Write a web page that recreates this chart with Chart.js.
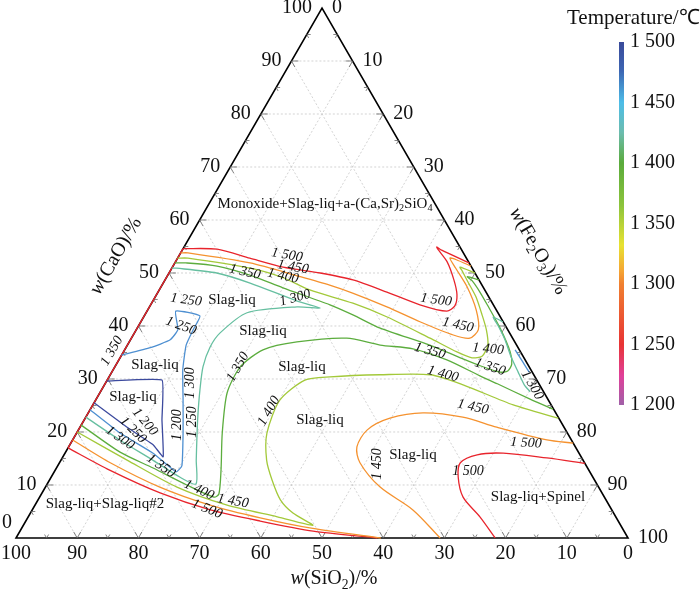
<!DOCTYPE html>
<html>
<head>
<meta charset="utf-8">
<script src="https://cdn.jsdelivr.net/npm/chart.js@4.4.0/dist/chart.umd.min.js"></script>
<style>
  html, body { margin: 0; padding: 0; background: #fff; }
  #wrap { width: 700px; height: 593px; }
</style>
</head>
<body>
<div id="wrap"><canvas id="chart"></canvas></div>
<script>
// --- Dados ---
// Eixos em % (w): CaO no vértice de cima, SiO2 à esquerda, Fe2O3 à direita
const axisTicks = [0, 10, 20, 30, 40, 50, 60, 70, 80, 90, 100];
const gridSteps = [10, 20, 30, 40, 50, 60, 70, 80, 90];
const tempTicks = [1500, 1450, 1400, 1350, 1300, 1250, 1200];

// Isotermas: pares [CaO, Fe2O3] em %
const iso1500Band  = [[0,59.0],[1.3,47.9],[3.2,38.3],[5.3,29.1],[8.5,19.3],[12.8,8.9],[17.0,0]];
const iso1500Edge  = [[17.0,0],[54.6,0]];
const iso1500Top   = [[54.6,0],[54.5,5.6],[52.8,11.8],[51.1,18.1],[50.0,24.7],[48.7,30.7],[46.4,37.4],[44.0,44.0],[42.8,49.0],[43.8,49.8],[45.9,49.1],[48.7,47.2],[52.1,44.4],[54.3,41.9],[54.9,41.3],[54.3,42.4],[51.9,48.1]];
const iso1500Right = [[0,78.3],[4.0,73.8],[7.7,69.2],[11.5,66.5],[14.2,65.5],[15.7,67.5],[16.0,71.6],[15.1,79.2],[14.1,85.9]];

const iso1450Band  = [[18.5,0],[14.2,8.3],[9.6,18.7],[6.2,28.6],[3.8,38.0],[1.8,47.6],[0,59.6]];
const iso1450Top   = [[53.8,0],[53.8,1.2],[51.9,12.3],[49.3,21.8],[47.7,27.4],[46.2,31.9],[43.6,38.8],[40.8,45.6],[38.3,52.3],[37.7,55.3],[39.3,55.9],[43.0,53.7],[47.4,50.0],[50.9,46.4],[52.8,44.5],[52.5,45.7],[51.3,48.7]];
const iso1450Right = [[0,69.3],[5.3,62.2],[9.6,54.7],[14.2,49.1],[17.2,47.1],[20.4,47.2],[22.6,49.8],[23.6,54.7],[22.8,61.6],[20.9,68.1],[18.5,77.5],[17.9,82.1]];

const iso1400Top   = [[52.8,0],[52.8,1.7],[50.9,12.8],[49.1,19.1],[46.8,24.6],[44.3,32.9],[41.7,39.8],[37.7,48.8],[35.1,54.5],[34.0,57.5],[34.3,59.0],[36.4,58.9],[39.3,57.2],[42.1,55.1],[45.5,52.4],[48.3,49.7],[50.4,47.7],[51.1,47.0],[50.0,50.0]];
const iso1400Low   = [[20.0,0],[14.7,10.8],[9.6,21.5],[6.2,31.4],[4.0,40.7],[2.4,47.3],[4.7,42.9],[7.2,39.6],[10.9,36.4],[14.7,33.6],[19.8,31.1],[26.0,30.1],[29.8,32.3],[30.4,36.1],[30.8,44.1],[30.8,52.3],[28.9,58.6],[25.1,68.7],[22.6,77.3]];

const iso1350Top   = [[51.9,0],[51.9,1.8],[51.3,7.2],[49.6,13.4],[47.2,20.0],[44.0,29.3],[42.1,34.0],[39.6,39.7],[36.4,49.4],[34.0,55.6],[32.5,59.6],[31.3,63.4],[31.5,64.6],[32.8,64.6],[35.1,63.2],[39.6,59.3],[44.0,55.0],[46.4,52.6],[48.5,50.3],[49.3,49.1],[48.7,51.3]];
const iso1350Low   = [[21.3,0],[16.2,8.9],[13.2,15.8],[10.0,22.9],[7.7,28.5],[8.3,29.0],[12.8,27.1],[19.8,23.8],[27.4,20.8],[32.3,20.5],[35.5,22.6],[37.0,27.4],[37.7,35.2],[36.4,41.3],[35.7,47.0],[33.6,53.6],[30.6,60.5],[29.1,64.1],[26.2,70.9],[24.3,75.6]];

const iso1300      = [[22.8,0],[18.5,7.7],[14.7,15.0],[11.5,21.0],[10.2,24.3],[14.7,22.1],[18.5,20.3],[22.8,18.3],[27.9,16.1],[32.3,14.4],[36.0,13.7],[38.7,14.0],[42.5,16.5],[43.6,24.1],[43.4,28.0],[44.7,23.6],[48.1,14.2],[50.0,7.8],[50.9,0.8],[50.9,0]];
const iso1300Right = [[40.75,59.2],[41.7,57.1],[40.0,58.8],[37.4,61.2],[34.3,63.7],[31.3,66.4],[28.9,68.6],[27.6,70.2]];

const iso1250      = [[24.2,0],[19.8,7.1],[16.0,14.4],[12.5,19.9],[13.6,20.3],[19.8,17.4],[26.0,14.3],[31.7,11.4],[36.4,9.6],[39.3,9.3],[41.9,9.1],[42.8,4.7],[39.3,6.8],[37.4,6.5],[35.9,4.0],[34.5,0]];
const iso1250Right = [[35.5,63.8],[33.4,66.0],[31.3,68.2]];

const iso1200      = [[25.5,0],[20.9,7.7],[17.6,13.6],[15.3,16.4],[22.3,12.7],[29.8,8.95],[29.6,0]];

// --- Estilos ---
const FONT = '"Liberation Serif", "Times New Roman", serif';
const colors = {
  1500: '#e8242c', 1450: '#f5922f', 1400: '#a3c93a', 1350: '#5cad3e',
  1300: '#66bfa0', 1250: '#4d8fd1', 1200: '#3c4a9e'
};

// Rótulos das isotermas (posição em px, rotação em graus)
const contourLabels = [
  ['1 500',287,255,10], ['1 450',293,267,10], ['1 350',245,272,12], ['1 400',283,276,12],
  ['1 300',295,298,-15], ['1 250',186,300,8], ['1 250',181,326,20],
  ['1 350',112,351,-60], ['1 200',145,422,50], ['1 250',133,430,45], ['1 300',120,438,35],
  ['1 350',161,466,35], ['1 200',177,425,-90], ['1 250',192,422,-90], ['1 300',190,383,-90],
  ['1 350',238,367,-60], ['1 400',269,411,-60], ['1 400',199,490,25], ['1 450',233,501,10],
  ['1 500',207,509,22], ['1 500',436,300,8], ['1 450',458,325,12], ['1 400',488,349,5],
  ['1 350',490,367,18], ['1 350',430,351,15], ['1 400',443,374,15], ['1 450',473,407,12],
  ['1 300',532,385,60], ['1 500',526,443,3], ['1 500',468,471,0], ['1 450',377,464,-90]
];

const phaseLabels = [
  ['Slag-liq',232,300], ['Slag-liq',263,331], ['Slag-liq',155,365], ['Slag-liq',133,397],
  ['Slag-liq',302,367], ['Slag-liq',320,420], ['Slag-liq',413,455],
  ['Slag-liq+Spinel',538,497], ['Slag-liq+Slag-liq#2',105,504]
];

// --- Conversão ternária -> cartesiana ---
function pt(c, f) { return { x: f + c / 2, y: c * 0.8660254 }; }
function toLine(arr) { return arr.map(p => pt(p[0], p[1])); }

function isoSet(arr, temp, tension) {
  return {
    data: toLine(arr), showLine: true, pointRadius: 0, borderWidth: 1.3,
    borderColor: colors[temp], tension: tension, fill: false
  };
}

function richText(ctx, parts, x, y, size, align, rot) {
  const fontOf = p => (p.i ? 'italic ' : '') + (p.sub ? size * 0.68 : size) + 'px ' + FONT;
  let w = 0;
  parts.forEach(p => { ctx.font = fontOf(p); p.w = ctx.measureText(p.t).width; w += p.w; });
  ctx.save();
  ctx.translate(x, y);
  ctx.rotate((rot || 0) * Math.PI / 180);
  ctx.textBaseline = 'middle';
  ctx.textAlign = 'left';
  let cx = align === 'left' ? 0 : align === 'right' ? -w : -w / 2;
  parts.forEach(p => {
    ctx.font = fontOf(p);
    ctx.fillText(p.t, cx, p.sub ? size * 0.3 : 0);
    cx += p.w;
  });
  ctx.restore();
}

const ternaryPlugin = {
  id: 'ternary',
  beforeDatasetsDraw(chart) {
    const ctx = chart.ctx, sx = chart.scales.x, sy = chart.scales.y;
    const P = (c, f) => { const p = pt(c, f); return [sx.getPixelForValue(p.x), sy.getPixelForValue(p.y)]; };
    const seg = (a, b) => { ctx.beginPath(); ctx.moveTo(a[0], a[1]); ctx.lineTo(b[0], b[1]); ctx.stroke(); };

    // grade pontilhada
    ctx.save();
    ctx.strokeStyle = '#c8c8c8';
    ctx.lineWidth = 0.8;
    ctx.setLineDash([2, 2]);
    gridSteps.forEach(v => {
      seg(P(v, 0), P(v, 100 - v));          // CaO constante
      seg(P(0, v), P(100 - v, v));          // Fe2O3 constante
      seg(P(0, 100 - v), P(100 - v, 0));    // SiO2 constante
    });
    ctx.restore();

    // triângulo
    ctx.save();
    ctx.strokeStyle = '#000';
    ctx.lineWidth = 1.6;
    const A = P(0, 0), B = P(0, 100), C = P(100, 0);
    ctx.beginPath(); ctx.moveTo(A[0], A[1]); ctx.lineTo(B[0], B[1]); ctx.lineTo(C[0], C[1]); ctx.closePath(); ctx.stroke();

    // marcas dos eixos
    ctx.strokeStyle = '#666';
    ctx.lineWidth = 0.8;
    const d60 = [Math.cos(Math.PI / 3), Math.sin(Math.PI / 3)];
    for (let v = 5; v < 100; v += 5) {
      const L = v % 10 === 0 ? 7 : 4;
      let p = P(0, 100 - v);      // base (SiO2 = v)
      seg(p, [p[0] + d60[0] * L, p[1] - d60[1] * L]);
      seg(p, [p[0] - d60[0] * L, p[1] - d60[1] * L]);
      p = P(v, 0);                // esquerda (CaO = v)
      seg(p, [p[0] + L, p[1]]);
      seg(p, [p[0] + d60[0] * L, p[1] + d60[1] * L]);
      p = P(100 - v, v);          // direita (Fe2O3 = v)
      seg(p, [p[0] - L, p[1]]);
      seg(p, [p[0] - d60[0] * L, p[1] + d60[1] * L]);
    }
    ctx.restore();
  },
  afterDatasetsDraw(chart) {
    const ctx = chart.ctx, sx = chart.scales.x, sy = chart.scales.y;
    const P = (c, f) => { const p = pt(c, f); return [sx.getPixelForValue(p.x), sy.getPixelForValue(p.y)]; };
    ctx.save();
    ctx.fillStyle = '#111';

    // rótulos dos eixos
    axisTicks.forEach(v => {
      let p = P(0, 100 - v);
      richText(ctx, [{ t: String(v) }], p[0], p[1] + 16, 20, 'center', 0);
      p = P(v, 0);
      if (v === 0) richText(ctx, [{ t: '0' }], p[0] - 4, p[1] - 15, 20, 'right', 0);
      else richText(ctx, [{ t: String(v) }], p[0] - 10, p[1], 20, 'right', 0);
      p = P(100 - v, v);
      richText(ctx, [{ t: String(v) }], p[0] + 10, p[1], 20, 'left', 0);
    });

    // títulos dos eixos
    richText(ctx, [{ t: 'w', i: true }, { t: '(SiO' }, { t: '2', sub: true }, { t: ')/%' }], 334, 579, 20, 'center', 0);
    richText(ctx, [{ t: 'w', i: true }, { t: '(CaO)/%' }], 116, 256, 20, 'center', -60);
    richText(ctx, [{ t: 'w', i: true }, { t: '(Fe' }, { t: '2', sub: true }, { t: 'O' }, { t: '3', sub: true }, { t: ')/%' }], 538, 251, 20, 'center', 60);

    // campos de fase
    phaseLabels.forEach(l => richText(ctx, [{ t: l[0] }], l[1], l[2], 15, 'center', 0));
    richText(ctx, [{ t: 'Monoxide+Slag-liq+a-(Ca,Sr)' }, { t: '2', sub: true }, { t: 'SiO' }, { t: '4', sub: true }], 325, 204, 15, 'center', 0);

    // rótulos das isotermas
    contourLabels.forEach(l => richText(ctx, [{ t: l[0], i: true }], l[1], l[2], 14, 'center', l[3]));

    // barra de cores
    const top = 42, bot = 405, bx = 619, bw = 5;
    const g = ctx.createLinearGradient(0, top, 0, bot);
    g.addColorStop(0, '#3a4a9a');
    g.addColorStop(0.08, '#3d66b3');
    g.addColorStop(0.167, '#4dbde8');
    g.addColorStop(0.25, '#6cbcae');
    g.addColorStop(0.333, '#5aab3c');
    g.addColorStop(0.45, '#8cc43c');
    g.addColorStop(0.56, '#e8e232');
    g.addColorStop(0.63, '#f5a634');
    g.addColorStop(0.667, '#f08030');
    g.addColorStop(0.833, '#e83434');
    g.addColorStop(0.92, '#e0409a');
    g.addColorStop(1, '#a060a8');
    ctx.fillStyle = g;
    ctx.fillRect(bx, top, bw, bot - top);
    ctx.fillStyle = '#111';
    tempTicks.forEach(t => {
      const y = top + (1500 - t) / 300 * (bot - top);
      richText(ctx, [{ t: String(t).replace(/^(\d)/, '$1 ') }], 630, y, 20, 'left', 0);
    });
    richText(ctx, [{ t: 'Temperature/℃' }], 567, 18, 21, 'left', 0);
    ctx.restore();
  }
};

new Chart(document.getElementById('chart'), {
  type: 'scatter',
  data: {
    datasets: [
      isoSet(iso1200, 1200, 0.1),
      isoSet(iso1250, 1250, 0.15), isoSet(iso1250Right, 1250, 0.2),
      isoSet(iso1300, 1300, 0.25), isoSet(iso1300Right, 1300, 0.2),
      isoSet(iso1350Top, 1350, 0.25), isoSet(iso1350Low, 1350, 0.25),
      isoSet(iso1400Top, 1400, 0.25), isoSet(iso1400Low, 1400, 0.25),
      isoSet(iso1450Band, 1450, 0.25), isoSet(iso1450Top, 1450, 0.25), isoSet(iso1450Right, 1450, 0.3),
      isoSet(iso1500Band, 1500, 0.25), isoSet(iso1500Edge, 1500, 0), isoSet(iso1500Top, 1500, 0.25), isoSet(iso1500Right, 1500, 0.3)
    ]
  },
  options: {
    responsive: true, maintainAspectRatio: false, animation: false, events: [],
    layout: { padding: 0 },
    plugins: { legend: { display: false }, tooltip: { enabled: false } },
    scales: {
      x: { type: 'linear', display: false, min: -2.614, max: 111.76 },
      y: { type: 'linear', display: false, min: -8.99, max: 87.91 }
    }
  },
  plugins: [ternaryPlugin]
});
</script>
</body>
</html>
